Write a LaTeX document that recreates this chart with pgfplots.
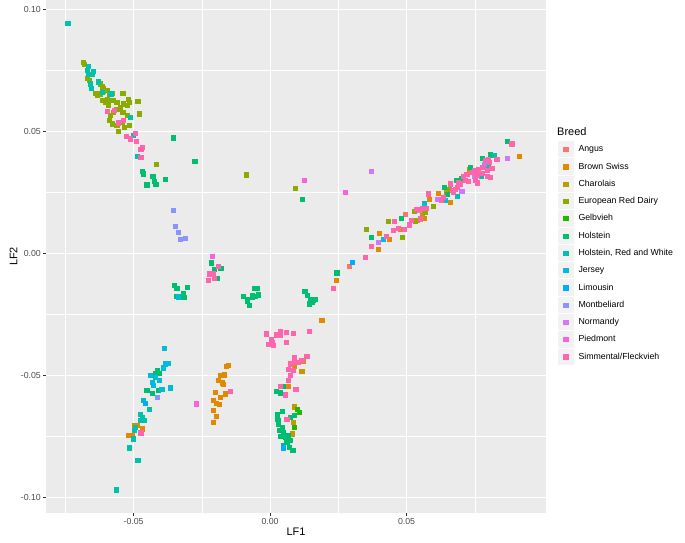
\documentclass[border=0pt]{standalone}
\usepackage{fontspec}
\setmainfont{Liberation Sans}
\usepackage{pgfplots}
\pgfplotsset{compat=1.18}
\definecolor{panelbg}{HTML}{EBEBEB}
\definecolor{keybg}{HTML}{F2F2F2}
\definecolor{tickcol}{HTML}{333333}
\definecolor{ticklab}{HTML}{4D4D4D}
\definecolor{c1}{HTML}{F8766D}
\definecolor{c2}{HTML}{E18A00}
\definecolor{c3}{HTML}{BE9C00}
\definecolor{c4}{HTML}{8CAB00}
\definecolor{c5}{HTML}{24B700}
\definecolor{c6}{HTML}{00BE70}
\definecolor{c7}{HTML}{00C1AB}
\definecolor{c8}{HTML}{00BBDA}
\definecolor{c9}{HTML}{00ACFC}
\definecolor{c10}{HTML}{8B93FF}
\definecolor{c11}{HTML}{D575FE}
\definecolor{c12}{HTML}{F962DD}
\definecolor{c13}{HTML}{FF65AC}
\pgfplotsset{
  breed/.style={only marks, mark=square*, mark size=2.1bp, color=#1,
    mark options={solid, line width=0.3bp},
    legend image code/.code={
      \path[draw=none, fill=none] (0bp,-8.64bp) rectangle (21.5bp,8.64bp);
      \fill[keybg, draw=none] (0.5bp,-8.14bp) rectangle (16.78bp,8.14bp);
      \draw plot coordinates {(8.64bp,0bp)};
    }},
}
\begin{document}
\begin{tikzpicture}
\begin{axis}[name=ax, scale only axis, width=500bp, height=513bp,
  xmin=-0.0821, xmax=0.1011, ymin=-0.1064, ymax=0.1039,
  axis background/.style={fill=panelbg},
  axis line style={draw=none},
  xtick={-0.05,0,0.05}, xticklabels={-0.05,0.00,0.05},
  ytick={-0.1,-0.05,0,0.05,0.1}, yticklabels={-0.10,-0.05,0.00,0.05,0.10},
  minor xtick={-0.075,-0.025,0.025,0.075},
  minor ytick={-0.075,-0.025,0.025,0.075},
  grid=both,
  major grid style={white, line width=1.07bp},
  minor grid style={white, line width=0.53bp},
  tick align=outside, tick pos=left,
  major tick length=2.75bp, minor tick length=0pt,
  major tick style={tickcol, line width=1.07bp},
  ticklabel style={font=\fontsize{8.8}{10}\selectfont, text=ticklab},
  xticklabel style={inner sep=0pt, yshift=-2.2bp},
  yticklabel style={inner sep=0pt, xshift=-2.2bp},
  xlabel={LF1}, ylabel={LF2},
  label style={font=\fontsize{11}{13}\selectfont},
  legend cell align=left,
  legend style={at={(axis description cs:1.022,0.7257)}, anchor=north west,
    draw=none, fill=none, inner sep=0pt, outer sep=0pt, row sep=0pt, column sep=0pt,
    font=\fontsize{8.8}{10}\selectfont, nodes={inner sep=0pt}},
]
\addplot[breed=c1] coordinates {(0.0290,-0.0052) (0.0495,0.0160) (0.0762,0.0340)};
\addlegendentry{Angus}
\addplot[breed=c2] coordinates {
(-0.0153,-0.0459) (-0.0161,-0.0463) (-0.0183,-0.0500) (-0.0168,-0.0497) (-0.0189,-0.0518) (-0.0177,-0.0530) (-0.0171,-0.0537) (-0.0201,-0.0568) (-0.0183,-0.0589) (-0.0165,-0.0575) (-0.0208,-0.0602) (-0.0198,-0.0614) (-0.0186,-0.0619) (-0.0208,-0.0643) (-0.0199,-0.0667) (-0.0208,-0.0693)
(-0.0497,-0.0705) (-0.0486,-0.0705) (-0.0519,-0.0746) (-0.0504,-0.0746) (-0.0470,-0.0718)
(0.0242,-0.0111) (0.0189,-0.0275) (0.0395,0.0019) (0.0437,0.0060) (0.0399,0.0083) (0.0565,0.0145) (0.0582,0.0224) (0.0616,0.0247) (0.0659,0.0210) (0.0729,0.0344) (0.0653,0.0261) (0.0913,0.0399)
(0.0065,-0.0545)};
\addlegendentry{Brown Swiss}
\addplot[breed=c3] coordinates {
(0.0122,-0.0441) (0.0116,-0.0482) (0.0088,-0.0462) (0.0089,-0.0628) (0.0085,-0.0693) (0.0081,-0.0739)
(0.0476,0.0101) (0.0537,0.0138) (0.0558,0.0163) (0.0645,0.0251)};
\addlegendentry{Charolais}
\addplot[breed=c4] coordinates {
(-0.0684,0.0784) (-0.0681,0.0775) (-0.0669,0.0720) (-0.0662,0.0712) (-0.0629,0.0702) (-0.0623,0.0696) (-0.0616,0.0684) (-0.0611,0.0679) (-0.0641,0.0657) (-0.0635,0.0648) (-0.0623,0.0655) (-0.0611,0.0665) (-0.0596,0.0668) (-0.0589,0.0655) (-0.0580,0.0657) (-0.0616,0.0627) (-0.0604,0.0620) (-0.0598,0.0634) (-0.0586,0.0627) (-0.0576,0.0627) (-0.0562,0.0620) (-0.0549,0.0600) (-0.0537,0.0614) (-0.0540,0.0657) (-0.0519,0.0634) (-0.0515,0.0620) (-0.0523,0.0607) (-0.0485,0.0624) (-0.0480,0.0573) (-0.0540,0.0579) (-0.0562,0.0593) (-0.0574,0.0579) (-0.0586,0.0566) (-0.0589,0.0545) (-0.0580,0.0532) (-0.0562,0.0525) (-0.0543,0.0538) (-0.0535,0.0518) (-0.0556,0.0501) (-0.0515,0.0525) (-0.0525,0.0566) (-0.0592,0.0607)
(-0.0418,0.0365) (-0.0088,0.0323) (0.0092,0.0268)
(0.0353,0.0101) (0.0433,0.0132) (0.0484,0.0066) (0.0531,0.0131) (0.0568,0.0169) (0.0527,0.0172) (0.0598,0.0193) (0.0657,0.0265)};
\addlegendentry{European Red Dairy}
\addplot[breed=c5] coordinates {(0.0098,-0.0637) (0.0106,-0.0649) (0.0089,-0.0712)};
\addlegendentry{Gelbvieh}
\addplot[breed=c6] coordinates {
(-0.0354,0.0475) (-0.0276,0.0377) (-0.0470,0.0337) (-0.0464,0.0327) (-0.0430,0.0316) (-0.0425,0.0295) (-0.0419,0.0283) (-0.0452,0.0282) (-0.0384,0.0306) (0.0118,0.0224)
(-0.0217,-0.0038) (-0.0204,-0.0063) (-0.0181,-0.0059) (-0.0195,-0.0101)
(-0.0352,-0.0131) (-0.0342,-0.0141) (-0.0304,-0.0138) (-0.0344,-0.0175) (-0.0330,-0.0179) (-0.0318,-0.0165) (-0.0314,-0.0179)
(-0.0100,-0.0175) (-0.0085,-0.0186) (-0.0083,-0.0195) (-0.0076,-0.0212) (-0.0066,-0.0172) (-0.0059,-0.0141) (-0.0049,-0.0141) (-0.0055,-0.0175) (-0.0045,-0.0169) (-0.0067,-0.0179)
(0.0127,-0.0155) (0.0137,-0.0172) (0.0147,-0.0186) (0.0159,-0.0190) (0.0144,-0.0206) (0.0165,-0.0186) (0.0153,-0.0200)
(-0.0415,-0.0477) (-0.0405,-0.0491) (-0.0433,-0.0500) (-0.0421,-0.0493) (-0.0452,-0.0559) (-0.0433,-0.0573) (-0.0409,-0.0561)
(0.0049,-0.0545) (0.0022,-0.0564) (0.0037,-0.0571) (0.0043,-0.0648) (0.0025,-0.0661) (0.0025,-0.0677) (0.0030,-0.0701) (0.0043,-0.0712) (0.0034,-0.0725) (0.0047,-0.0732) (0.0037,-0.0750) (0.0055,-0.0753) (0.0067,-0.0746) (0.0073,-0.0766) (0.0061,-0.0773) (0.0049,-0.0787) (0.0071,-0.0794) (0.0083,-0.0807) (0.0073,-0.0671) (0.0089,-0.0664) (0.0029,-0.0684)
(0.0244,-0.0079) (0.0370,0.0066) (0.0479,0.0146) (0.0637,0.0272) (0.0649,0.0242) (0.0681,0.0302) (0.0699,0.0310) (0.0733,0.0354) (0.0778,0.0391) (0.0806,0.0405) (0.0868,0.0460)};
\addlegendentry{Holstein}
\addplot[breed=c7] coordinates {
(-0.0742,0.0943) (-0.0668,0.0768) (-0.0669,0.0750) (-0.0649,0.0746) (-0.0651,0.0736) (-0.0666,0.0734) (-0.0659,0.0696) (-0.0655,0.0679) (-0.0631,0.0704) (-0.0616,0.0661) (-0.0584,0.0655) (-0.0513,0.0559) (-0.0503,0.0484) (-0.0486,0.0399)
(-0.0466,-0.0600) (-0.0442,-0.0639) (-0.0476,-0.0660) (-0.0468,-0.0673) (-0.0476,-0.0684) (-0.0460,-0.0684) (-0.0495,-0.0712) (-0.0501,-0.0759) (-0.0515,-0.0796) (-0.0485,-0.0848) (-0.0565,-0.0968) (-0.0498,-0.0725)
(0.0686,0.0234) (0.0772,0.0317) (0.0800,0.0354) (0.0822,0.0402)};
\addlegendentry{Holstein, Red and White}
\addplot[breed=c8] coordinates {
(-0.0388,-0.0388) (-0.0385,-0.0452) (-0.0373,-0.0450) (-0.0391,-0.0468) (-0.0427,-0.0541) (-0.0397,-0.0555) (-0.0366,-0.0550) (-0.0405,-0.0518) (-0.0421,-0.0507) (-0.0433,-0.0527) (-0.0440,-0.0500) (-0.0337,-0.0177)
(0.0413,0.0057) (0.0564,0.0206) (0.0641,0.0217)};
\addlegendentry{Jersey}
\addplot[breed=c9] coordinates {(-0.0458,-0.0614) (0.0301,-0.0036) (0.0049,-0.0796)};
\addlegendentry{Limousin}
\addplot[breed=c10] coordinates {(-0.0356,0.0176) (-0.0348,0.0112) (-0.0338,0.0086) (-0.0330,0.0057) (-0.0311,0.0064) (-0.0415,-0.0589) (0.0784,0.0365)};
\addlegendentry{Montbeliard}
\addplot[breed=c11] coordinates {(0.0371,0.0336) (0.0397,0.0046) (0.0546,0.0179) (0.0614,0.0224) (0.0702,0.0255) (0.0747,0.0316) (0.0868,0.0391)};
\addlegendentry{Normandy}
\addplot[breed=c12] coordinates {(0.0125,0.0301) (0.0274,0.0251) (-0.0271,-0.0616) (-0.0211,-0.0012)};
\addlegendentry{Piedmont}
\addplot[breed=c13] coordinates {
(-0.0596,0.0582) (-0.0571,0.0589) (-0.0556,0.0536) (-0.0537,0.0548) (-0.0526,0.0482) (-0.0513,0.0471) (-0.0495,0.0492) (-0.0491,0.0459) (-0.0470,0.0436) (-0.0474,0.0426) (-0.0474,0.0395)
(-0.0189,-0.0052) (-0.0222,-0.0083) (-0.0210,-0.0083) (-0.0205,-0.0101) (-0.0227,-0.0111)
(-0.0474,-0.0735) (-0.0147,-0.0566)
(-0.0015,-0.0329) (0.0005,-0.0352) (0.0022,-0.0333) (0.0037,-0.0318) (0.0037,-0.0336) (0.0059,-0.0323) (0.0085,-0.0327) (0.0059,-0.0362) (-0.0005,-0.0373) (0.0007,-0.0364) (0.0012,-0.0377) (0.0144,-0.0317)
(0.0134,-0.0421) (0.0116,-0.0439) (0.0104,-0.0445) (0.0073,-0.0452) (0.0067,-0.0473) (0.0085,-0.0480) (0.0092,-0.0445) (0.0073,-0.0500) (0.0067,-0.0520) (0.0037,-0.0545) (0.0055,-0.0579) (0.0094,-0.0555) (0.0089,-0.0427) (0.0061,-0.0680)
(0.0230,-0.0141) (0.0347,-0.0015) (0.0371,0.0030) (0.0425,0.0070) (0.0452,0.0097) (0.0468,0.0105) (0.0455,0.0132) (0.0492,0.0101) (0.0510,0.0118) (0.0516,0.0135) (0.0549,0.0143) (0.0559,0.0187) (0.0570,0.0187) (0.0537,0.0183) (0.0580,0.0245) (0.0626,0.0220) (0.0635,0.0231) (0.0659,0.0286) (0.0666,0.0258) (0.0678,0.0265) (0.0684,0.0272) (0.0671,0.0251) (0.0690,0.0292) (0.0696,0.0286) (0.0708,0.0316) (0.0720,0.0324) (0.0726,0.0295) (0.0714,0.0302) (0.0739,0.0333) (0.0747,0.0343) (0.0757,0.0320) (0.0751,0.0299) (0.0759,0.0290) (0.0763,0.0347) (0.0778,0.0329) (0.0779,0.0354) (0.0794,0.0316) (0.0806,0.0313) (0.0794,0.0340) (0.0802,0.0374) (0.0790,0.0384) (0.0830,0.0388) (0.0800,0.0388) (0.0885,0.0450) (0.0812,0.0351)};
\addlegendentry{Simmental/Fleckvieh}
\end{axis}
\node[anchor=base west, inner sep=0pt, font=\fontsize{11}{13}\selectfont] at ([xshift=11bp,yshift=-135.7bp]ax.north east) {Breed};
\pgfresetboundingbox
\path[use as bounding box] ([xshift=-46bp,yshift=-30bp]ax.south west) rectangle ([xshift=139bp]ax.north east);
\end{tikzpicture}
\end{document}
